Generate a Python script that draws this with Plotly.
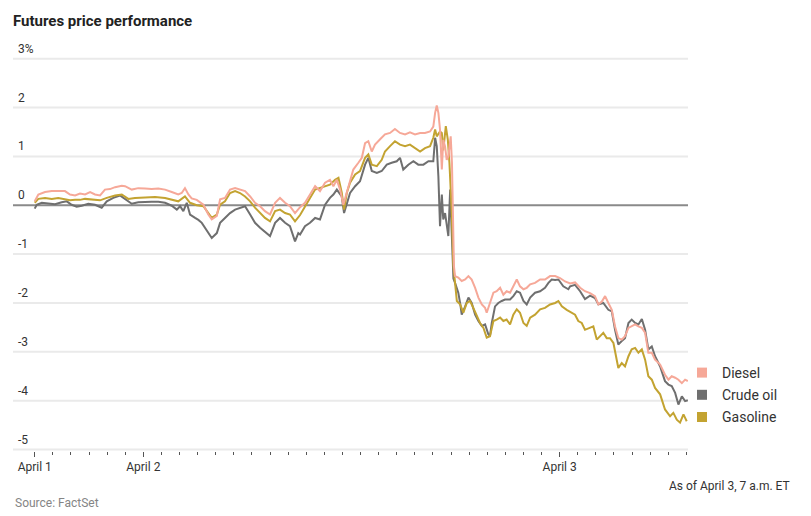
import plotly.graph_objects as go


OUTPUT_HTML = "out.html"

FONT = "Roboto, Noto Sans, sans-serif"

# time axis in hours from the April 1 mark (one minor tick per hour)
TICK_HOURS = [0, 6, 29]
TICK_LABELS = ["April 1", "April 2", "April 3"]

Y_TICKS = [3, 2, 1, 0, -1, -2, -3, -4, -5]
Y_LABELS = ["3%", "2", "1", "0", "-1", "-2", "-3", "-4", "-5"]

# percent change
DIESEL_T = [
    0.00, 0.20, 0.57, 0.94, 1.30, 1.67, 1.95, 2.23, 2.50, 2.78, 3.06, 3.33, 3.61, 3.88, 4.16,
    4.44, 4.81, 4.99, 5.36, 5.72, 6.09, 6.46, 6.83, 7.20, 7.57, 7.93, 8.12, 8.30, 8.49, 8.67,
    8.95, 9.32, 9.59, 9.78, 10.06, 10.24, 10.51, 10.79, 11.07, 11.34, 11.62, 11.90, 12.17,
    12.45, 12.72, 13.00, 13.28, 13.55, 13.83, 14.10, 14.38, 14.66, 14.93, 15.21, 15.49, 15.76,
    16.04, 16.31, 16.50, 16.69, 16.87, 17.05, 17.24, 17.42, 17.60, 17.88, 18.07, 18.25, 18.43,
    18.62, 18.80, 19.08, 19.35, 19.63, 19.90, 20.18, 20.46, 20.73, 21.01, 21.29, 21.56, 21.84,
    22.02, 22.12, 22.21, 22.30, 22.39, 22.49, 22.57, 22.67, 22.76, 22.85, 22.98, 23.05, 23.10,
    23.16, 23.22, 23.40, 23.59, 23.78, 23.96, 24.14, 24.33, 24.51, 24.70, 24.88, 24.97, 25.15,
    25.34, 25.52, 25.71, 25.89, 26.07, 26.26, 26.44, 26.63, 26.81, 27.00, 27.18, 27.37, 27.64,
    27.92, 28.19, 28.47, 28.75, 29.02, 29.30, 29.58, 29.85, 30.13, 30.40, 30.68, 30.95, 31.14,
    31.33, 31.51, 31.69, 31.88, 32.06, 32.24, 32.43, 32.61, 32.80, 32.98, 33.17, 33.35, 33.54,
    33.72, 33.90, 34.09, 34.27, 34.55, 34.82, 35.01, 35.19, 35.38, 35.56, 35.75, 35.93, 36.08,
]
DIESEL = [
    0.08, 0.22, 0.27, 0.29, 0.29, 0.29, 0.22, 0.20, 0.24, 0.22, 0.27, 0.22, 0.20, 0.32, 0.33,
    0.37, 0.40, 0.39, 0.32, 0.35, 0.34, 0.33, 0.34, 0.32, 0.27, 0.22, 0.25, 0.35, 0.22, 0.14,
    0.11, 0.01, -0.19, -0.29, -0.22, 0.12, 0.15, 0.32, 0.35, 0.32, 0.29, 0.18, 0.05,
    -0.02, -0.12, -0.19, 0.05, 0.15, 0.05, -0.02, -0.16, -0.04, 0.05, 0.22, 0.39, 0.29,
    0.46, 0.52, 0.39, 0.52, 0.32, 0.01, 0.25, 0.46, 0.73, 0.87, 0.97, 1.27, 1.31,
    1.10, 1.24, 1.35, 1.45, 1.48, 1.56, 1.48, 1.45, 1.49, 1.45, 1.48, 1.48, 1.51,
    1.61, 1.89, 2.04, 1.89, 1.55, 0.73, 1.34, 1.20, 0.93, 1.00, 1.41, 0.87, -0.60,
    -1.25, -1.45, -1.48, -1.55, -1.52, -1.45, -1.52, -1.69, -1.89, -2.03, -2.10, -2.20, -2.00,
    -1.79, -1.76, -1.69, -1.83, -1.76, -1.79, -1.66, -1.52, -1.66, -1.72, -1.69, -1.62, -1.59,
    -1.52, -1.52, -1.45, -1.45, -1.49, -1.56, -1.60, -1.58, -1.69, -1.76, -1.80, -1.86, -2.03,
    -1.97, -1.86, -2.00, -2.14, -2.48, -2.72, -2.75, -2.68, -2.51, -2.48, -2.44, -2.48, -2.51,
    -2.61, -3.02, -3.02, -3.16, -3.26, -3.47, -3.57, -3.50, -3.53, -3.57, -3.64, -3.57, -3.60,
]

CRUDE_T = [
    0.00, 0.11, 0.39, 0.75, 1.12, 1.49, 1.77, 2.04, 2.32, 2.60, 2.96, 3.33, 3.70, 3.98, 4.34,
    4.71, 4.99, 5.36, 5.72, 6.09, 6.46, 6.83, 7.20, 7.57, 7.85, 8.03, 8.21, 8.40, 8.58, 8.86,
    9.04, 9.23, 9.50, 9.78, 10.06, 10.24, 10.51, 10.79, 11.07, 11.34, 11.62, 11.90, 12.17,
    12.45, 12.82, 13.00, 13.28, 13.55, 13.83, 14.10, 14.38, 14.56, 14.66, 14.93, 15.21, 15.49,
    15.76, 16.04, 16.31, 16.50, 16.69, 16.96, 17.09, 17.24, 17.42, 17.70, 17.97, 18.25, 18.43,
    18.62, 18.90, 19.17, 19.45, 19.72, 20.00, 20.18, 20.36, 20.64, 20.92, 21.19, 21.47, 21.75,
    22.02, 22.12, 22.21, 22.30, 22.39, 22.49, 22.57, 22.67, 22.76, 22.85, 22.95, 23.04, 23.13,
    23.22, 23.40, 23.50, 23.59, 23.78, 23.96, 24.14, 24.33, 24.51, 24.70, 24.88, 25.06, 25.15,
    25.25, 25.43, 25.61, 25.80, 25.98, 26.26, 26.44, 26.63, 26.81, 27.00, 27.18, 27.37, 27.64,
    27.92, 28.19, 28.38, 28.56, 28.75, 28.93, 29.20, 29.48, 29.58, 29.85, 30.13, 30.40, 30.68,
    30.95, 31.14, 31.41, 31.69, 31.88, 32.06, 32.24, 32.43, 32.61, 32.80, 32.98, 33.17, 33.35,
    33.54, 33.72, 33.90, 34.09, 34.27, 34.55, 34.82, 35.01, 35.19, 35.38, 35.56, 35.75, 35.93,
    36.08,
]
CRUDE = [
    -0.07, 0.01, 0.05, 0.03, 0.02, 0.06, 0.08, 0.01, -0.03, -0.01, 0.03, 0.01, -0.05, 0.08, 0.15,
    0.20, 0.13, 0.03, 0.06, 0.07, 0.07, 0.07, 0.05, -0.01, -0.09, -0.02, -0.12, 0.05, -0.19, -0.26,
    -0.30, -0.36, -0.50, -0.67, -0.57, -0.36, -0.26, -0.16, -0.09, -0.05, -0.02, -0.19, -0.36,
    -0.46, -0.57, -0.63, -0.36, -0.26, -0.36, -0.43, -0.74, -0.57, -0.60, -0.43, -0.36, -0.26,
    -0.29, 0.01, 0.15, 0.22, 0.32, 0.18, -0.16, 0.01, 0.25, 0.39, 0.49, 0.83, 0.97,
    0.70, 0.66, 0.70, 0.83, 0.87, 0.90, 0.97, 0.73, 0.83, 0.90, 0.83, 0.83, 0.90,
    0.90, 1.38, 1.21, 0.59, -0.43, 0.22, -0.29, -0.16, -0.36, -0.63, 0.32, -0.63, -1.50,
    -1.59, -1.79, -2.00, -2.24, -2.07, -1.89, -2.00, -2.24, -2.37, -2.47, -2.44, -2.64, -2.68,
    -2.41, -2.07, -2.00, -1.96, -1.93, -1.93, -1.86, -1.76, -1.79, -1.96, -2.03, -1.89, -1.79,
    -1.76, -1.69, -1.59, -1.52, -1.53, -1.52, -1.66, -1.72, -1.66, -1.63, -1.76, -1.92, -1.85,
    -1.90, -2.03, -2.00, -2.14, -2.17, -2.55, -2.85, -2.78, -2.72, -2.41, -2.34, -2.41, -2.44,
    -2.33, -2.55, -2.95, -2.89, -3.09, -3.30, -3.60, -3.67, -3.70, -3.84, -4.08, -3.91, -4.01,
    -3.99,
]

GASOLINE_T = [
    0.00, 0.20, 0.57, 0.94, 1.30, 1.67, 1.95, 2.23, 2.50, 2.78, 3.06, 3.33, 3.61, 3.98, 4.44,
    4.81, 5.17, 5.54, 6.09, 6.65, 7.20, 7.66, 7.93, 8.30, 8.58, 8.95, 9.32, 9.59, 9.78, 10.06,
    10.24, 10.51, 10.79, 11.07, 11.34, 11.62, 11.90, 12.17, 12.45, 12.72, 13.00, 13.28, 13.55,
    13.83, 14.10, 14.38, 14.66, 14.93, 15.21, 15.49, 15.76, 16.04, 16.31, 16.59, 16.78, 16.96,
    17.09, 17.24, 17.42, 17.70, 17.97, 18.25, 18.43, 18.62, 18.90, 19.17, 19.35, 19.63, 19.90,
    20.18, 20.46, 20.73, 21.01, 21.29, 21.56, 21.84, 22.02, 22.12, 22.21, 22.30, 22.39, 22.49,
    22.57, 22.71, 22.82, 22.91, 23.04, 23.13, 23.32, 23.50, 23.68, 23.87, 24.05, 24.23, 24.42,
    24.60, 24.79, 24.97, 25.15, 25.34, 25.52, 25.71, 25.89, 26.07, 26.26, 26.44, 26.63, 26.81,
    27.00, 27.18, 27.37, 27.64, 27.92, 28.19, 28.47, 28.75, 28.93, 29.12, 29.39, 29.67, 29.85,
    30.03, 30.22, 30.40, 30.68, 30.86, 31.05, 31.23, 31.41, 31.60, 31.78, 31.97, 32.15, 32.24,
    32.43, 32.61, 32.80, 32.98, 33.17, 33.35, 33.54, 33.72, 33.90, 34.09, 34.27, 34.55, 34.82,
    35.10, 35.28, 35.47, 35.65, 35.84, 36.02,
]
GASOLINE = [
    0.05, 0.13, 0.15, 0.13, 0.15, 0.13, 0.10, 0.11, 0.11, 0.13, 0.12, 0.12, 0.10, 0.15, 0.20,
    0.22, 0.13, 0.15, 0.16, 0.17, 0.15, 0.10, 0.08, 0.18, 0.05, 0.00, -0.02, -0.16, -0.26, -0.19,
    0.01, 0.08, 0.25, 0.29, 0.25, 0.18, 0.08, -0.05, -0.16, -0.26, -0.33, -0.12, -0.09,
    -0.16, -0.19, -0.33, -0.20, -0.02, 0.15, 0.32, 0.35, 0.39, 0.42, 0.52, 0.56, 0.26,
    -0.09, 0.25, 0.46, 0.63, 0.70, 0.97, 1.04, 0.83, 0.80, 0.93, 1.10, 1.21, 1.31,
    1.24, 1.21, 1.24, 1.17, 1.10, 1.17, 1.21, 1.38, 1.55, 1.41, 1.45, 1.51, 1.48,
    1.12, 1.62, 1.35, 0.87, -0.16, -1.25, -1.96, -2.03, -2.20, -2.00, -1.96, -2.10, -2.27,
    -2.41, -2.51, -2.71, -2.68, -2.37, -2.34, -2.30, -2.37, -2.34, -2.44, -2.24, -2.13, -2.20,
    -2.41, -2.47, -2.30, -2.24, -2.13, -2.10, -2.03, -2.00, -1.96, -2.07, -2.14, -2.20, -2.24,
    -2.37, -2.41, -2.55, -2.51, -2.48, -2.75, -2.68, -2.61, -2.72, -2.72, -2.82, -3.16, -3.33,
    -3.23, -3.30, -3.09, -2.95, -2.92, -3.02, -2.95, -3.16, -3.50, -3.57, -3.74, -3.87, -4.18,
    -4.32, -4.25, -4.39, -4.45, -4.28, -4.42,
]

COLORS = {
    "Diesel": "#f6a898",
    "Crude oil": "#6f6f6f",
    "Gasoline": "#c3a331",
}

# the page body has an 8px margin, so the figure is offset by 8px
FIG_W = 803
FIG_H = 508
PLOT_L, PLOT_R, PLOT_T, PLOT_B = 5, 123, 36, 65


def main():
    fig = go.Figure()

    # draw order: crude, gasoline, diesel on top
    series = [
        ("Crude oil", CRUDE_T, CRUDE),
        ("Gasoline", GASOLINE_T, GASOLINE),
        ("Diesel", DIESEL_T, DIESEL),
    ]
    for name, t, vals in series:
        fig.add_trace(go.Scatter(
            x=t, y=vals, mode="lines", name=name,
            line=dict(color=COLORS[name], width=2),
            showlegend=False,
            hovertemplate=name + ": %{y:.2f}%<extra></extra>",
        ))

    # square swatches for the legend
    for name in ["Diesel", "Crude oil", "Gasoline"]:
        fig.add_trace(go.Scatter(
            x=[None], y=[None], mode="markers", name=name,
            marker=dict(symbol="square", size=10, color=COLORS[name], line_width=0),
            legendgroup=name,
        ))

    plot_w = FIG_W - PLOT_L - PLOT_R
    plot_h = FIG_H - PLOT_T - PLOT_B
    plot_bottom = FIG_H - PLOT_B

    # horizontal gridlines, zero line darker
    for val in Y_TICKS:
        fig.add_hline(
            y=val, layer="below",
            line=dict(color="#8a8a8a" if val == 0 else "#eaeaea", width=2),
        )

    # y labels sit on top of their gridlines
    annotations = [
        dict(
            text=label, xref="paper", yref="y",
            x=0, y=val, xanchor="left", yanchor="bottom",
            xshift=3, yshift=1,
            showarrow=False,
            font=dict(size=12, color="#333333"),
        )
        for val, label in zip(Y_TICKS, Y_LABELS)
    ]
    annotations += [
        dict(
            text="Source: FactSet",
            xref="paper", yref="paper",
            x=0, y=-(495 - plot_bottom) / plot_h,
            xanchor="left", yanchor="middle",
            showarrow=False,
            font=dict(size=12, color="#858585"),
        ),
        dict(
            text="As of April 3, 7 a.m. ET",
            xref="paper", yref="paper",
            x=(784 - PLOT_L) / plot_w, y=-(478 - plot_bottom) / plot_h,
            xanchor="right", yanchor="middle",
            showarrow=False,
            font=dict(size=12, color="#333333"),
        ),
    ]

    fig.update_layout(
        width=FIG_W,
        height=FIG_H,
        margin=dict(l=PLOT_L, r=PLOT_R, t=PLOT_T, b=PLOT_B),
        paper_bgcolor="white",
        plot_bgcolor="white",
        font=dict(family=FONT, size=12, color="#333333"),
        title=dict(
            text="<b>Futures price performance</b>",
            x=5 / FIG_W, xanchor="left",
            y=1 - 13 / FIG_H, yanchor="middle",
            font=dict(family=FONT, size=15, color="#222222"),
        ),
        xaxis=dict(
            range=[-1.2, 36.09],
            showgrid=False,
            zeroline=False,
            showline=False,
            tickmode="array",
            tickvals=TICK_HOURS,
            ticktext=TICK_LABELS,
            ticks="outside",
            ticklen=5,
            tickwidth=1,
            tickcolor="#555555",
            tickfont=dict(size=12, color="#333333"),
            minor=dict(
                tickmode="array",
                tickvals=list(range(0, 37)),
                ticks="outside",
                ticklen=3,
                tickwidth=1,
                tickcolor="#555555",
                showgrid=False,
            ),
        ),
        yaxis=dict(
            range=[-5.03, 3.3],
            showticklabels=False,
            ticks="",
            showgrid=False,
            zeroline=False,
            showline=False,
        ),
        legend=dict(
            x=(674 - PLOT_L) / plot_w, xanchor="left",
            y=1 - (349 - PLOT_T) / plot_h, yanchor="top",
            font=dict(family=FONT, size=14, color="#333333"),
            bgcolor="rgba(0,0,0,0)",
            tracegroupgap=1,
            itemclick=False,
        ),
        annotations=annotations,
    )

    fig.write_html(OUTPUT_HTML)


if __name__ == "__main__":
    main()
